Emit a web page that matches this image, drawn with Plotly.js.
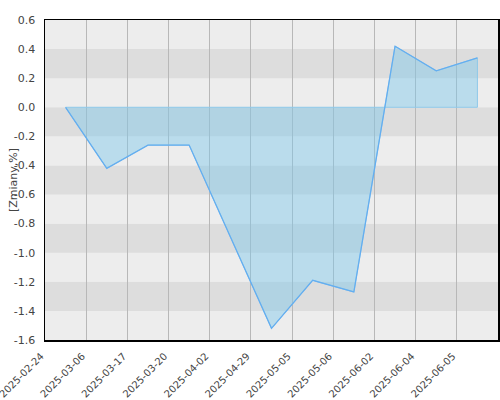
<!DOCTYPE html>
<html>
<head>
<meta charset="utf-8">
<script src="https://cdn.plot.ly/plotly-3.0.1.min.js"></script>
<style>
  html, body { margin: 0; padding: 0; background: #fff; }
  #myDiv { width: 500px; height: 400px; }
</style>
</head>
<body>
<div id="myDiv"></div>
<script>
// Daty na osi X (etykiety przy liniach siatki)
const dates = ['2025-02-24', '2025-03-06', '2025-03-17', '2025-03-20', '2025-04-02',
               '2025-04-29', '2025-05-05', '2025-05-06', '2025-06-02', '2025-06-04', '2025-06-05'];
// Zmiany w %
const changes = [0.0, -0.42, -0.26, -0.26, -0.89, -1.52, -1.19, -1.27, 0.42, 0.25, 0.34];
// Etykiety osi Y (z łącznikiem zamiast znaku minus)
const yTicks = [-1.6, -1.4, -1.2, -1.0, -0.8, -0.6, -0.4, -0.2, 0.0, 0.2, 0.4, 0.6];
const yTickText = ['-1.6', '-1.4', '-1.2', '-1.0', '-0.8', '-0.6', '-0.4', '-0.2', '0.0', '0.2', '0.4', '0.6'];

// punkty leżą w połowie między liniami siatki
let x = changes.map((_, i) => i + 0.5);
let last = x[x.length - 1];

// pasy tła co 0.2
let shapes = [];
for (let i = 0; i < yTicks.length - 1; i++) {
    shapes.push({
        type: 'rect', xref: 'paper', yref: 'y', layer: 'below',
        x0: 0, x1: 1, y0: yTicks[i], y1: yTicks[i + 1],
        fillcolor: (i % 2 === 0) ? '#ededed' : '#dddddd',
        line: { width: 0 }
    });
}

let area = {
    x: x.concat([last, x[0]]),
    y: changes.concat([0, 0]),
    mode: 'lines',
    type: 'scatter',
    fill: 'toself',
    fillcolor: 'rgba(125,200,236,0.45)',
    line: { width: 1, color: '#8ec9ea' },
    hoverinfo: 'none'
};

let line = {
    x: x,
    y: changes,
    mode: 'lines',
    type: 'scatter',
    line: { width: 1.3, color: '#64aef0' },
    hoverinfo: 'none'
};

let font = { family: 'DejaVu Sans, sans-serif', size: 11, color: '#444' };
let xfont = { family: 'DejaVu Sans, sans-serif', size: 10, color: '#444' };

let layout = {
    width: 500,
    height: 400,
    paper_bgcolor: '#ffffff',
    plot_bgcolor: '#ededed',
    font: font,
    showlegend: false,
    margin: { l: 45, r: 2, t: 20, b: 60 },
    shapes: shapes,
    xaxis: {
        range: [-0.0001, dates.length],
        tickvals: dates.map((_, i) => i),
        ticktext: dates,
        tickangle: -45,
        ticklabeloverflow: 'allow',
        ticklabelstandoff: 5,
        ticklabelshift: -4,
        showgrid: true,
        gridcolor: '#b8b8b8',
        gridwidth: 1,
        zeroline: false,
        showline: true,
        linecolor: '#000',
        linewidth: 1.5,
        mirror: true,
        ticks: '',
        layer: 'above traces',
        tickfont: xfont
    },
    yaxis: {
        range: [-1.6, 0.6],
        tickvals: yTicks,
        ticktext: yTickText,
        showgrid: false,
        zeroline: false,
        showline: true,
        linecolor: '#000',
        linewidth: 1.5,
        mirror: true,
        ticks: '',
        ticklabelstandoff: 6,
        tickfont: font
    },
    annotations: [{
        text: '[Zmiany,%]',
        xref: 'paper', yref: 'paper',
        x: 0, y: 0.5,
        xanchor: 'center', yanchor: 'middle',
        xshift: -32,
        textangle: -90,
        showarrow: false,
        font: font
    }]
};

Plotly.newPlot('myDiv', [area, line], layout, { displayModeBar: false, staticPlot: true });
</script>
</body>
</html>
